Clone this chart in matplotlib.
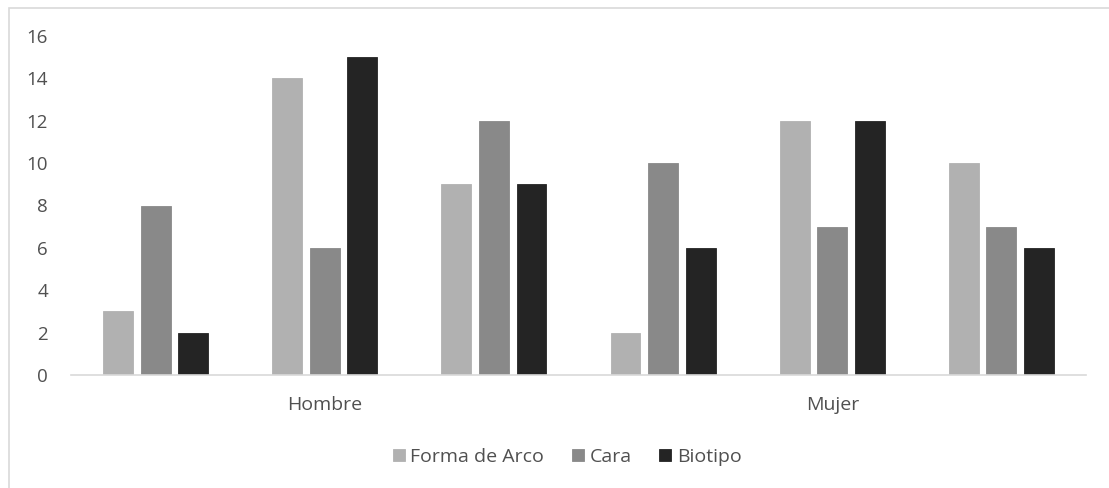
import matplotlib
matplotlib.use("Agg")
import matplotlib.pyplot as plt
from matplotlib.patches import Rectangle
import numpy as np

# Data: three bar clusters under each sex
sexes = ["Hombre", "Mujer"]
clusters_per_sex = 3
series_names = ["Forma de Arco", "Cara", "Biotipo"]
forma_de_arco = [3, 14, 9, 2, 12, 10]
cara = [8, 6, 12, 10, 7, 7]
biotipo = [2, 15, 9, 6, 12, 6]
y_ticks = [0, 2, 4, 6, 8, 10, 12, 14, 16]

colors = ["#b1b1b1", "#898989", "#242424"]
text_color = "#505050"
plt.rcParams["font.family"] = ["Open Sans", "DejaVu Sans"]

W, H = 1109, 488
fig = plt.figure(figsize=(W / 100, H / 100), dpi=100)
fig.patch.set_facecolor("white")

# Chart-area frame
fig.patches.append(Rectangle((9 / W, -0.1), 1.2, (H - 8) / H + 0.1,
                             transform=fig.transFigure, fill=False,
                             edgecolor="#d9d9d9", linewidth=1.2))

ax = fig.add_axes([71 / W, (H - 375) / H, (1086 - 71) / W, (375 - 36) / H])

n = len(forma_de_arco)
x = np.arange(n)
bw = 0.177
off = 0.222
for i, (vals, c, name) in enumerate(zip([forma_de_arco, cara, biotipo], colors, series_names)):
    ax.bar(x + (i - 1) * off, vals, width=bw, color=c, edgecolor=c,
           linewidth=0.6, label=name, zorder=2)

ax.set_xlim(-0.5, n - 0.5)
ax.set_ylim(0, 16)
ax.set_yticks(y_ticks)
ax.set_yticklabels([str(t) for t in y_ticks])
ax.tick_params(axis="y", length=0, pad=16.5, labelsize=13.5, labelcolor=text_color)
ax.set_xticks([])

for side in ["top", "right", "left"]:
    ax.spines[side].set_visible(False)
ax.spines["bottom"].set_color("#d9d9d9")
ax.spines["bottom"].set_linewidth(1.2)
ax.patch.set_alpha(0)

# Sex labels centred under each set of clusters
for k, s in enumerate(sexes):
    xc = k * clusters_per_sex + (clusters_per_sex - 1) / 2
    ax.annotate(s, xy=(xc, 0), xycoords=("data", "axes fraction"),
                xytext=(0, -30), textcoords="offset pixels",
                ha="center", va="center", fontsize=14, color=text_color)

leg = fig.legend(loc="center", bbox_to_anchor=(567 / W, (H - 457) / H),
                 ncol=3, frameon=False, fontsize=14, handlelength=0.62,
                 handleheight=0.62, handletextpad=0.3, columnspacing=1.4,
                 labelcolor=text_color)

fig.savefig("out.png", dpi=100)
